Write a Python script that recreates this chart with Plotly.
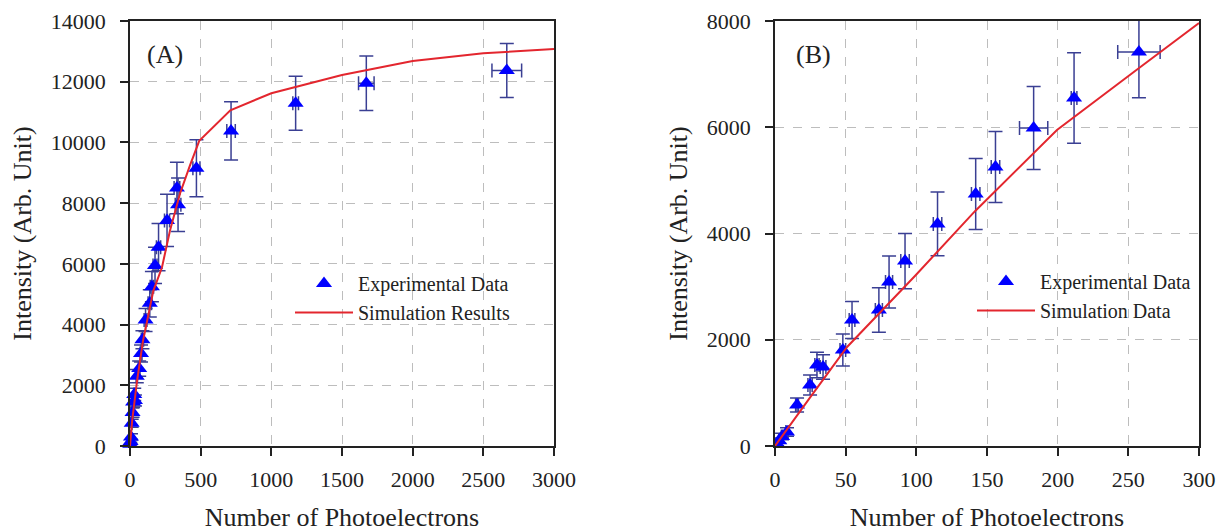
import plotly.graph_objects as go

# ---------------- Panel A data ----------------
a_x = [2, 4, 7, 12, 18, 22, 30, 35, 48, 65, 78, 88, 110, 140, 155, 177, 202, 262, 332, 340, 470, 715, 1172, 1672, 2666]
a_y = [60, 150, 300, 750, 1100, 1450, 1700, 1500, 2300, 2550, 3050, 3500, 4150, 4700, 5250, 5950, 6550, 7430, 8500, 7950, 9150, 10380, 11290, 11950, 12370]
a_yerr = [60, 80, 100, 130, 150, 170, 200, 180, 220, 250, 280, 300, 380, 450, 500, 600, 780, 860, 850, 880, 940, 960, 890, 900, 890]
a_xerr = [1, 1, 1, 2, 2, 3, 3, 3, 5, 6, 7, 8, 10, 12, 12, 14, 15, 18, 20, 20, 25, 30, 20, 55, 105]

sa_x = [0, 15, 50, 92, 165, 226, 283, 354, 425, 490, 710, 1000, 1500, 2000, 2500, 3000]
sa_y = [0, 820, 2150, 3460, 5110, 5880, 7100, 8320, 9250, 10050, 11060, 11620, 12220, 12680, 12940, 13075]

# ---------------- Panel B data ----------------
b_x = [1.5, 3, 5, 8.5, 15.6, 24.8, 29.7, 34, 48, 54.5, 73.5, 80.7, 92, 115, 142, 156, 183, 211.6, 257.5]
b_y = [40, 100, 180, 263, 772, 1148, 1525, 1487, 1807, 2372, 2560, 3087, 3482, 4179, 4744, 5252, 5986, 6551, 7416]
b_yerr = [30, 50, 60, 80, 130, 190, 240, 230, 300, 350, 420, 490, 520, 600, 670, 670, 780, 850, 860]
b_xerr = [0.3, 0.4, 0.5, 0.8, 1, 1.5, 1.5, 2, 2, 2, 2.5, 2.5, 3, 3, 3, 3, 10, 2, 15]

sb_x = [0, 10, 25, 51, 74, 99, 141.5, 171, 199.5, 257.6, 300]
sb_y = [0, 360, 920, 1864, 2503, 3200, 4420, 5200, 5948, 7115, 7962]

x_ticks_a = [0, 500, 1000, 1500, 2000, 2500, 3000]
y_ticks_a = [0, 2000, 4000, 6000, 8000, 10000, 12000, 14000]
x_ticks_b = [0, 50, 100, 150, 200, 250, 300]
y_ticks_b = [0, 2000, 4000, 6000, 8000]

W, H = 1226, 532
FONT = "Liberation Serif, Times New Roman, serif"
BLUE = "#0000FF"
ERR = "#3A3F93"
RED = "#E3262E"

fig = go.Figure()

def exp_trace(x, y, ye, xe, name, xa, ya, legend, clip):
    return go.Scatter(
        x=x, y=y, mode="markers", name=name, xaxis=xa, yaxis=ya, legend=legend,
        marker=dict(symbol="triangle-up", size=14, color=BLUE),
        error_y=dict(type="data", array=ye, color=ERR, thickness=1.5, width=7),
        error_x=dict(type="data", array=xe, color=ERR, thickness=1.5, width=7),
        cliponaxis=clip,
    )

def sim_trace(x, y, name, xa, ya, legend):
    return go.Scatter(
        x=x, y=y, mode="lines", name=name, xaxis=xa, yaxis=ya, legend=legend,
        line=dict(color=RED, width=2), cliponaxis=True,
    )

fig.add_trace(exp_trace(a_x, a_y, a_yerr, a_xerr, "Experimental Data", "x", "y", "legend", False))
fig.add_trace(sim_trace(sa_x, sa_y, "Simulation Results", "x", "y", "legend"))
fig.add_trace(exp_trace(b_x, b_y, b_yerr, b_xerr, "Experimental Data", "x2", "y2", "legend2", True))
fig.add_trace(sim_trace(sb_x, sb_y, "Simulation Data", "x2", "y2", "legend2"))

ydom = [1 - 446 / H, 1 - 21 / H]

def xaxis(dom, rng, ticks):
    return dict(
        domain=dom, range=rng, tickvals=ticks, ticktext=[str(t) for t in ticks],
        ticks="outside", ticklen=8, tickwidth=1.5, automargin=False,
        tickcolor="#222", showline=True, linecolor="#222", linewidth=1.5, mirror=True,
        showgrid=True, gridcolor="#BDBDBD", griddash="dash", gridwidth=1, zeroline=False,
        tickfont=dict(family=FONT, size=22, color="#222"), ticklabelstandoff=5,
        title=dict(text="Number of Photoelectrons", font=dict(family=FONT, size=26, color="#222"), standoff=27),
    )

def yaxis(rng, ticks, anchor):
    return dict(
        domain=ydom, range=rng, tickvals=ticks, ticktext=[str(t) for t in ticks],
        ticks="outside", ticklen=8, tickwidth=1.5, automargin=False,
        tickcolor="#222", showline=True, linecolor="#222", linewidth=1.5, mirror=True,
        showgrid=True, gridcolor="#BDBDBD", griddash="dash", gridwidth=1, zeroline=False,
        tickfont=dict(family=FONT, size=22, color="#222"), ticklabelstandoff=10, anchor=anchor,
        title=dict(text="Intensity (Arb. Unit)", font=dict(family=FONT, size=26, color="#222"), standoff=12),
    )

fig.update_layout(
    width=W, height=H, margin=dict(l=0, r=0, t=0, b=0),
    paper_bgcolor="white", plot_bgcolor="white",
    xaxis=dict(**xaxis([130 / W, 554 / W], [0, 3000], x_ticks_a), anchor="y"),
    yaxis=yaxis([0, 14000], y_ticks_a, "x"),
    xaxis2=dict(**xaxis([775 / W, 1199 / W], [0, 300], x_ticks_b), anchor="y2"),
    yaxis2=yaxis([0, 8000], y_ticks_b, "x2"),
    legend=dict(x=290 / W, y=1 - 264 / H, xanchor="left", yanchor="top", bgcolor="rgba(0,0,0,0)",
                font=dict(family=FONT, size=20, color="#222"), itemwidth=58),
    legend2=dict(x=972 / W, y=1 - 262 / H, xanchor="left", yanchor="top", bgcolor="rgba(0,0,0,0)",
                 font=dict(family=FONT, size=20, color="#222"), itemwidth=58),
    showlegend=True,
    annotations=[
        dict(text="(A)", x=0.083, y=0.92, xref="x domain", yref="y domain", showarrow=False,
             font=dict(family=FONT, size=26, color="#222"), xanchor="center", yanchor="middle"),
        dict(text="(B)", x=0.09, y=0.92, xref="x2 domain", yref="y2 domain", showarrow=False,
             font=dict(family=FONT, size=26, color="#222"), xanchor="center", yanchor="middle"),
    ],
)

fig.write_html("out.html")
